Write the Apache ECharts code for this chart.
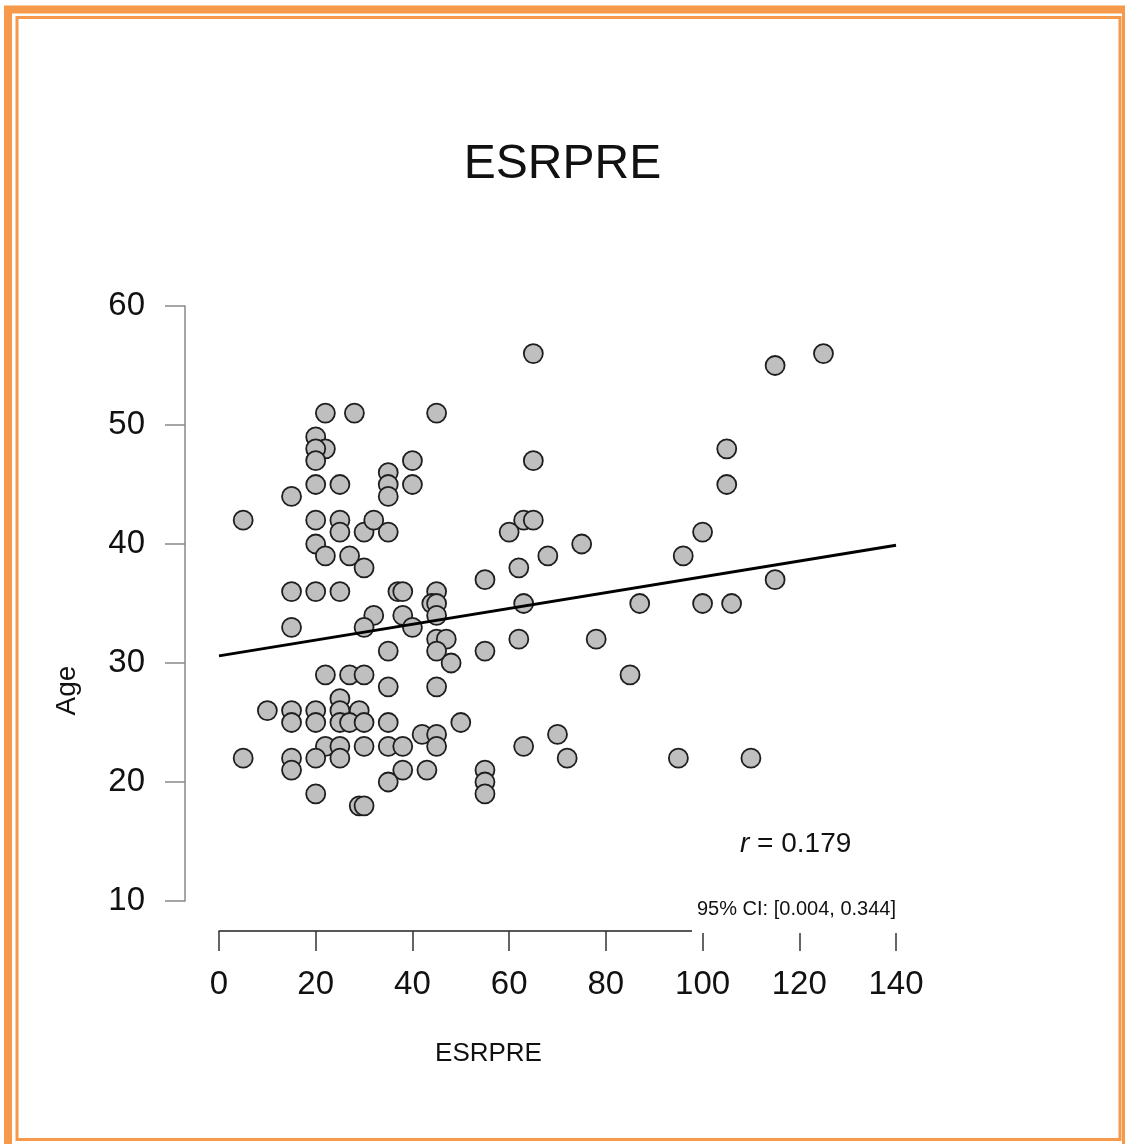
<!DOCTYPE html>
<html>
<head>
<meta charset="utf-8">
<script src="https://cdn.jsdelivr.net/npm/echarts@6/dist/echarts.min.js"></script>
<style>
    html, body { margin: 0; padding: 0; background: #fff; }
    #chart { width: 1125px; height: 1144px; }
</style>
</head>
<body>
<div id="chart"></div>
<script>
    // ESRPRE vs Age
    var esrpre = [22, 28, 45, 20, 22, 20, 20, 20, 25, 40, 40, 35, 35, 35, 15,
        5, 20, 25, 25, 30, 32, 35, 20, 22, 27, 30, 55, 15, 20, 25,
        37, 38, 45, 44, 45, 45, 32, 38, 15, 30, 40, 45, 47, 35, 45,
        55, 48, 22, 27, 30, 35, 45, 25, 10, 15, 20, 25, 29, 15, 20,
        25, 27, 30, 35, 50, 42, 45, 45, 22, 25, 30, 35, 38, 5, 15,
        20, 25, 15, 38, 43, 35, 55, 55, 55, 20, 29, 30,
        65, 115, 125, 65, 105, 105, 63, 65, 60, 68, 75, 62, 96, 100, 115,
        63, 87, 100, 106, 62, 78, 85, 70, 63, 72, 95, 110];
    var age = [51, 51, 51, 49, 48, 48, 47, 45, 45, 47, 45, 46, 45, 44, 44,
        42, 42, 42, 41, 41, 42, 41, 40, 39, 39, 38, 37, 36, 36, 36,
        36, 36, 36, 35, 35, 34, 34, 34, 33, 33, 33, 32, 32, 31, 31,
        31, 30, 29, 29, 29, 28, 28, 27, 26, 26, 26, 26, 26, 25, 25,
        25, 25, 25, 25, 25, 24, 24, 23, 23, 23, 23, 23, 23, 22, 22,
        22, 22, 21, 21, 21, 20, 21, 20, 19, 19, 18, 18,
        56, 55, 56, 47, 48, 45, 42, 42, 41, 39, 40, 38, 39, 41, 37,
        35, 35, 35, 35, 32, 32, 29, 24, 23, 22, 22, 22];
    // regression line ends
    var fitX = [0, 140];
    var fitY = [30.6, 39.9];
    var xTicks = [0, 20, 40, 60, 80, 100, 120, 140];
    var yTicks = [10, 20, 30, 40, 50, 60];

    var points = [];
    for (var i = 0; i < esrpre.length; i++) {
        points.push([esrpre[i], age[i]]);
    }
    var fitLine = [];
    for (var j = 0; j < fitX.length; j++) {
        fitLine.push([fitX[j], fitY[j]]);
    }

    var orange = '#f6994a';
    var font = 'Liberation Sans, Arial, sans-serif';

    var chart = echarts.init(document.getElementById('chart'), null, {renderer: 'canvas'});
    chart.setOption({
        backgroundColor: '#fff',
        animation: false,
        title: {
            text: 'ESRPRE',
            left: 'center',
            top: 136,
            textStyle: {fontFamily: font, fontSize: 48, fontWeight: 'normal', color: '#111'}
        },
        grid: {left: 219, right: 229, top: 306, bottom: 243},
        xAxis: {
            type: 'value',
            min: xTicks[0],
            max: xTicks[xTicks.length - 1],
            interval: 20,
            offset: 30,
            name: 'ESRPRE',
            nameLocation: 'middle',
            nameGap: 110,
            nameMoveOverlap: false,
            nameTextStyle: {fontFamily: font, fontSize: 26, color: '#111', padding: [0, 138, 0, 0]},
            axisLine: {show: true, onZero: false, lineStyle: {color: '#222', width: 1.5}},
            axisTick: {show: true, length: 20, lineStyle: {color: '#333', width: 1.5}},
            axisLabel: {fontFamily: font, fontSize: 33, color: '#111', margin: 37},
            splitLine: {show: false}
        },
        yAxis: {
            type: 'value',
            min: yTicks[0],
            max: yTicks[yTicks.length - 1],
            interval: 10,
            offset: 34,
            name: 'Age',
            nameLocation: 'middle',
            nameRotate: 90,
            nameGap: 104,
            nameMoveOverlap: false,
            nameTextStyle: {fontFamily: font, fontSize: 28, color: '#111', padding: [0, 174, 0, 0]},
            axisLine: {show: true, onZero: false, lineStyle: {color: '#888', width: 1.5}},
            axisTick: {show: true, length: 20, lineStyle: {color: '#888', width: 1.5}},
            axisLabel: {fontFamily: font, fontSize: 33, color: '#111', margin: 40},
            splitLine: {show: false}
        },
        series: [
            {
                type: 'scatter',
                data: points,
                symbol: 'circle',
                symbolSize: 19,
                z: 2,
                itemStyle: {color: '#bfbfbf', borderColor: '#1e1e1e', borderWidth: 1.8, opacity: 1}
            },
            {
                type: 'line',
                data: fitLine,
                showSymbol: false,
                z: 3,
                lineStyle: {color: '#000', width: 3}
            }
        ],
        graphic: [
            // frame
            {
                type: 'rect', z: 50, silent: true,
                shape: {x: 8, y: 9.5, width: 1118, height: 1160},
                style: {fill: 'none', stroke: orange, lineWidth: 8}
            },
            {
                type: 'rect', z: 50, silent: true,
                shape: {x: 17, y: 17.5, width: 1103, height: 1122},
                style: {fill: 'none', stroke: orange, lineWidth: 3}
            },
            {
                type: 'text', z: 60, left: 740, top: 830,
                style: {
                    text: '{i|r} = 0.179',
                    font: '28px ' + font,
                    fill: '#111',
                    rich: {i: {fontStyle: 'italic', fontSize: 28, fontFamily: font}}
                }
            },
            {
                type: 'text', z: 60, left: 692, top: 894,
                style: {
                    text: '95% CI: [0.004, 0.344]',
                    font: '20px ' + font,
                    fill: '#111',
                    backgroundColor: '#fff',
                    padding: [5, 6, 14, 5]
                }
            }
        ]
    });
</script>
</body>
</html>
